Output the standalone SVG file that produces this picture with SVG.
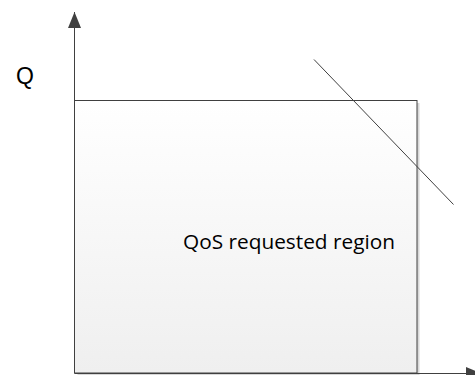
<svg xmlns="http://www.w3.org/2000/svg" width="475" height="375" viewBox="0 0 475 375">
<defs>
<linearGradient id="fillg" x1="0" y1="0" x2="0" y2="1">
<stop offset="0" stop-color="#ffffff"/>
<stop offset="1" stop-color="#efefef"/>
</linearGradient>
<marker id="arr" markerWidth="16" markerHeight="13" refX="16" refY="6.5" orient="auto" markerUnits="userSpaceOnUse">
<path d="M0,0 L16,6.5 L0,13 Z" fill="#404040"/>
</marker>
</defs>
<style>
.ln{stroke:#404040;stroke-width:1;fill:none}
.tx{font-family:"Open Sans","Liberation Sans",Arial,sans-serif;fill:#000}
.tq{font-family:"Liberation Sans",Arial,sans-serif;fill:#000}
</style>
<g id="region">
<rect x="77.5" y="103" width="342" height="272" fill="#d8d8d8"/>
<rect x="74.5" y="100.5" width="342.5" height="272.5" fill="url(#fillg)" stroke="#404040" stroke-width="1"/>
<text class="tx" x="183" y="249" font-size="19.5" textLength="212" lengthAdjust="spacingAndGlyphs">QoS requested region</text>
</g>
<g id="label-q">
<text class="tq" x="16" y="84" font-size="23">Q</text>
</g>
<g id="connectors">
<line class="ln" x1="74.5" y1="373" x2="74.5" y2="12" marker-end="url(#arr)"/>
<line class="ln" x1="74.5" y1="373.5" x2="482" y2="373.5" marker-end="url(#arr)"/>
<line class="ln" x1="314" y1="59.5" x2="453.5" y2="204.5"/>
</g>
</svg>
